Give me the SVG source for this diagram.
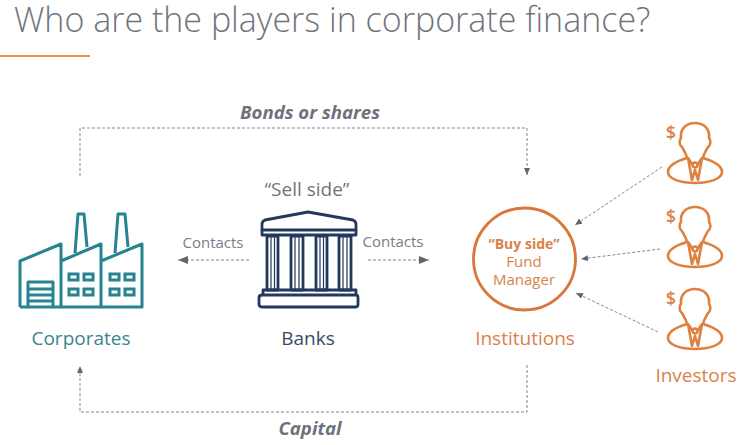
<svg xmlns="http://www.w3.org/2000/svg" width="750" height="445" viewBox="0 0 750 445">
<style>
text{font-family:"Open Sans","Noto Sans",sans-serif}
.lab{font-size:19px;text-anchor:middle}
.c{font-size:15px;fill:#7a7d86;text-anchor:middle}
.it{font-size:18.6px;font-weight:700;font-style:italic;fill:#6f727c;text-anchor:middle}
.dash{fill:none;stroke:#85878f;stroke-width:1;stroke-dasharray:3 2}
.t{fill:none;stroke:#258490;stroke-width:3;stroke-linejoin:round}
.b{fill:none;stroke:#23395b;stroke-width:2.8;stroke-linejoin:round}
.o{fill:none;stroke:#e0803f;stroke-width:2.6;stroke-linejoin:round;stroke-linecap:round}
.or{fill:#d9824a}
.m{font-size:15px;fill:#d9824a;text-anchor:middle}
</style>
<defs>
<marker id="a" markerWidth="12" markerHeight="10" refX="10" refY="4" orient="auto" markerUnits="userSpaceOnUse"><path d="M0 0L10 4L0 8Z" fill="#62656f"/></marker>
<marker id="s" markerWidth="10" markerHeight="8" refX="7" refY="3" orient="auto" markerUnits="userSpaceOnUse"><path d="M0 0L7 3L0 6Z" fill="#62656f"/></marker>
<g id="person">
<path class="o" d="M-8 2C-9 -3 -11 -5 -13 -9C-16 -11 -16 -16 -14 -18C-15 -27 -9 -33 0 -33C9 -33 15 -27 14 -18C16 -16 16 -11 13 -9C11 -5 9 -3 8 2"/>
<path class="o" d="M-8 2C-18 5 -27 10 -27 16C-27 23 -14 27 0 27C14 27 27 23 27 16C27 10 18 5 8 2"/>
<path class="o" d="M-7 2L-3 24L0 14L3 24L7 2M-7 2L-3 8M7 2L3 8"/>
<circle class="o" cx="0" cy="9" r="2.5"/>
<text x="-24" y="-17" font-size="18" font-weight="600" text-anchor="middle" class="or">$</text>
</g>
</defs>
<rect width="750" height="445" fill="#fff"/>
<text id="title" x="14" y="32" font-size="34" fill="#71747c" style="font-weight:300">Who are the players in corporate finance?</text>
<rect x="0" y="55" width="90" height="2" fill="#e9944f"/>
<g id="connectors">
<path class="dash" d="M80 176V128H527V175" marker-end="url(#s)"/>
<path class="dash" d="M527 365V412H80V366" marker-end="url(#s)"/>
<path class="dash" d="M249 260H178" marker-end="url(#a)"/>
<path class="dash" d="M368 260H429" marker-end="url(#a)"/>
<path class="dash" d="M662 167L575 225" marker-end="url(#s)"/>
<path class="dash" d="M660 249L581 259" marker-end="url(#s)"/>
<path class="dash" d="M658 332L576 293" marker-end="url(#s)"/>
</g>
<text class="it" x="310" y="119">Bonds or shares</text>
<text class="it" x="310" y="435">Capital</text>
<g id="corporates">
<path class="t" d="M20 307V261L61 244V307M61 261L101 244V307M101 261L142 244V307H20"/>
<path class="t" d="M75 253L78 214H84L87 247M115 253L118 214H125L128 247"/>
<path class="t" d="M28 307V282H53V307M28 289H53M28 295H53M28 301H53"/>
<g fill="none" stroke="#258490" stroke-width="3"><rect x="69" y="274" width="9" height="6"/><rect x="84" y="274" width="9" height="6"/><rect x="69" y="289" width="9" height="6"/><rect x="84" y="289" width="9" height="6"/><rect x="110" y="274" width="9" height="6"/><rect x="125" y="274" width="9" height="6"/><rect x="110" y="289" width="9" height="6"/><rect x="125" y="289" width="9" height="6"/></g>
<text class="lab" x="81" y="345" fill="#3b8492">Corporates</text>
</g>
<text class="c" x="213" y="248">Contacts</text>
<g id="banks">
<text x="307" y="196" font-size="19" fill="#71747c" text-anchor="middle">“Sell side”</text>
<path class="b" d="M262 224C262 222 263 221 265 220L308 212L353 220C355 221 356 222 356 224V230H262Z"/>
<path class="b" d="M262 230V235H356V230"/>
<path class="b" d="M267 236H278V290H267ZM291 236H303V290H291ZM316 236H327V290H316ZM339 236H351V290H339Z"/>
<path stroke="#23395b" stroke-width="1.2" d="M271 236V290M274.500 236V290M295 236V290M299 236V290M320 236V290M323.500 236V290M343 236V290M347 236V290"/>
<path class="b" d="M263 290H356V295H263ZM262 295H356Q358 295 358 298V304Q358 307 356 307H262Q259 307 259 304V298Q259 295 262 295Z"/>
<text class="lab" x="308" y="345" fill="#3a4964">Banks</text>
</g>
<text class="c" x="393" y="247">Contacts</text>
<g id="institutions">
<circle cx="524.500" cy="259" r="51" fill="none" stroke="#d9773a" stroke-width="2.800"/>
<text x="524" y="249" font-size="14" font-weight="700" fill="#d9824a" text-anchor="middle">“Buy side”</text>
<text class="m" x="524" y="267">Fund</text>
<text class="m" x="524" y="285">Manager</text>
<text class="lab or" x="525" y="345">Institutions</text>
</g>
<g id="investor1"><use href="#person" x="695" y="156"/></g>
<g id="investor2"><use href="#person" x="695" y="240"/></g>
<g id="investor3"><use href="#person" x="695" y="322"/></g>
<text class="lab or" x="696" y="382">Investors</text>
</svg>
